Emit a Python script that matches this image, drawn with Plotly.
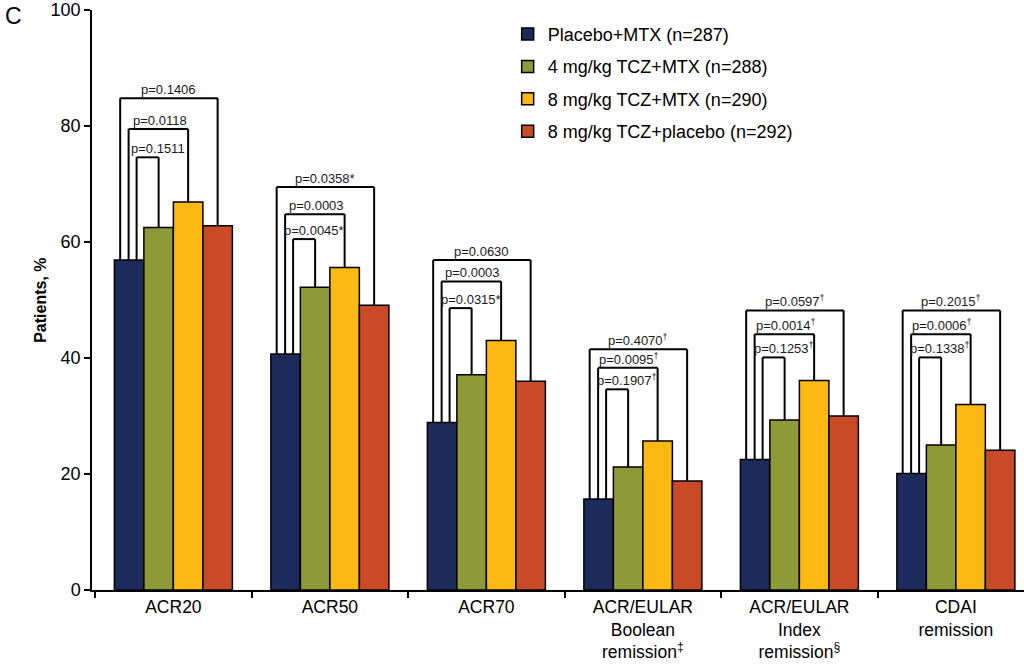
import plotly.graph_objects as go

# ---- data ----
categories = ["ACR20", "ACR50", "ACR70",
              "ACR/EULAR<br>Boolean<br>remission<sup>‡</sup>",
              "ACR/EULAR<br>Index<br>remission<sup>§</sup>",
              "CDAI<br>remission"]
series_names = ["Placebo+MTX (n=287)", "4 mg/kg TCZ+MTX (n=288)",
                "8 mg/kg TCZ+MTX (n=290)", "8 mg/kg TCZ+placebo (n=292)"]
placebo_mtx = [56.9, 40.7, 28.9, 15.7, 22.5, 20.1]
tcz4_mtx = [62.5, 52.2, 37.1, 21.2, 29.3, 25.0]
tcz8_mtx = [66.9, 55.6, 43.0, 25.7, 36.1, 32.0]
tcz8_placebo = [62.8, 49.1, 36.0, 18.8, 30.0, 24.1]

p_vs_4mg_mtx = ["p=0.1511", "p=0.0045*", "p=0.0315*", "p=0.1907†", "p=0.1253†", "p=0.1338†"]
p_vs_8mg_mtx = ["p=0.0118", "p=0.0003", "p=0.0003", "p=0.0095†", "p=0.0014†", "p=0.0006†"]
p_vs_8mg_pbo = ["p=0.1406", "p=0.0358*", "p=0.0630", "p=0.4070†", "p=0.0597†", "p=0.2015†"]

# bracket heights (layout, in y units)
bracket_inner = [74.6, 60.5, 48.6, 34.6, 40.1, 40.1]
bracket_middle = [79.5, 64.8, 53.2, 38.3, 44.1, 44.1]
bracket_outer = [84.8, 69.5, 56.9, 41.5, 48.2, 48.2]

colors = ["#1d2b5c", "#8e9a38", "#fdb913", "#c94a27"]

series = [placebo_mtx, tcz4_mtx, tcz8_mtx, tcz8_placebo]


def fmt_p(s):
    # dagger drawn as a small raised mark
    return s.replace("†", "<sup><span style='color:#1a1a1a'>†</span></sup>")


fig = go.Figure()
for name, vals, col in zip(series_names, series, colors):
    fig.add_trace(go.Bar(
        x=categories, y=vals, name=name, legendgroup=name,
        marker=dict(color=col, line=dict(color="black", width=1.5)),
    ))

bargap = 0.246
bw = (1 - bargap) / 4
centers = [-1.5 * bw, -0.5 * bw, 0.5 * bw, 1.5 * bw]

shapes = []
annotations = []
left_offsets = [-0.235, -0.286, -0.340]  # inner, middle, outer left legs
targets = [(1, bracket_inner, p_vs_4mg_mtx, 0.065),
           (2, bracket_middle, p_vs_8mg_mtx, 0.01),
           (3, bracket_outer, p_vs_8mg_pbo, 0.0)]
line = dict(color="black", width=2)
for i in range(len(categories)):
    for k, (tidx, tops, labels, lab_off) in enumerate(targets):
        xl = i + left_offsets[k]
        xr = i + centers[tidx]
        top = tops[i]
        yl = series[0][i]
        yr = series[tidx][i]
        shapes.append(dict(type="line", xref="x", yref="y", x0=xl, x1=xl, y0=yl, y1=top, line=line))
        shapes.append(dict(type="line", xref="x", yref="y", x0=xl, x1=xr, y0=top, y1=top, line=line))
        shapes.append(dict(type="line", xref="x", yref="y", x0=xr, x1=xr, y0=yr, y1=top, line=line))
        annotations.append(dict(
            x=(xl + xr) / 2 + lab_off, y=top, xref="x", yref="y",
            text=fmt_p(labels[i]), showarrow=False, yanchor="bottom",
            font=dict(size=13, color="#1a1a1a"), yshift=-1,
        ))

annotations.append(dict(text="<b>Patients, %</b>", textangle=-90, xref="paper", yref="paper",
                        x=-0.056, y=0.5, showarrow=False,
                        font=dict(size=16, color="black"),
                        xanchor="center", yanchor="middle"))
annotations.append(dict(text="C", xref="paper", yref="paper", x=-0.096, y=1.016,
                        showarrow=False, xanchor="left", yanchor="top",
                        font=dict(size=23, color="black")))

fig.update_layout(
    width=1024, height=668,
    margin=dict(l=92, r=0, t=10, b=78),
    paper_bgcolor="white", plot_bgcolor="white",
    font=dict(family="Liberation Sans, Arial, sans-serif", color="black", size=17),
    barmode="group", bargap=bargap, bargroupgap=0,
    shapes=shapes, annotations=annotations,
    legend=dict(x=0.446, y=0.99, xanchor="left", yanchor="top",
                font=dict(size=18), bgcolor="rgba(0,0,0,0)",
                traceorder="grouped", tracegroupgap=6),
    xaxis=dict(type="category", range=[-0.52, -0.52 + 932 / 156.5],
               showline=True, linecolor="black", linewidth=1.5,
               ticks="outside", ticklen=6, tickcolor="black", tickwidth=1.5,
               tickson="boundaries", showgrid=False, tickfont=dict(size=17.5)),
    yaxis=dict(range=[0, 100], tickvals=[0, 20, 40, 60, 80, 100],
               showline=True, linecolor="black", linewidth=1.5,
               ticks="outside", ticklen=6, tickcolor="black", tickwidth=1.5,
               ticklabeloverflow="allow",
               showgrid=False, zeroline=False, tickfont=dict(size=18)),
)

fig.write_html("out.html", config={"displayModeBar": False},
               post_script="document.body.style.margin='0px';")
